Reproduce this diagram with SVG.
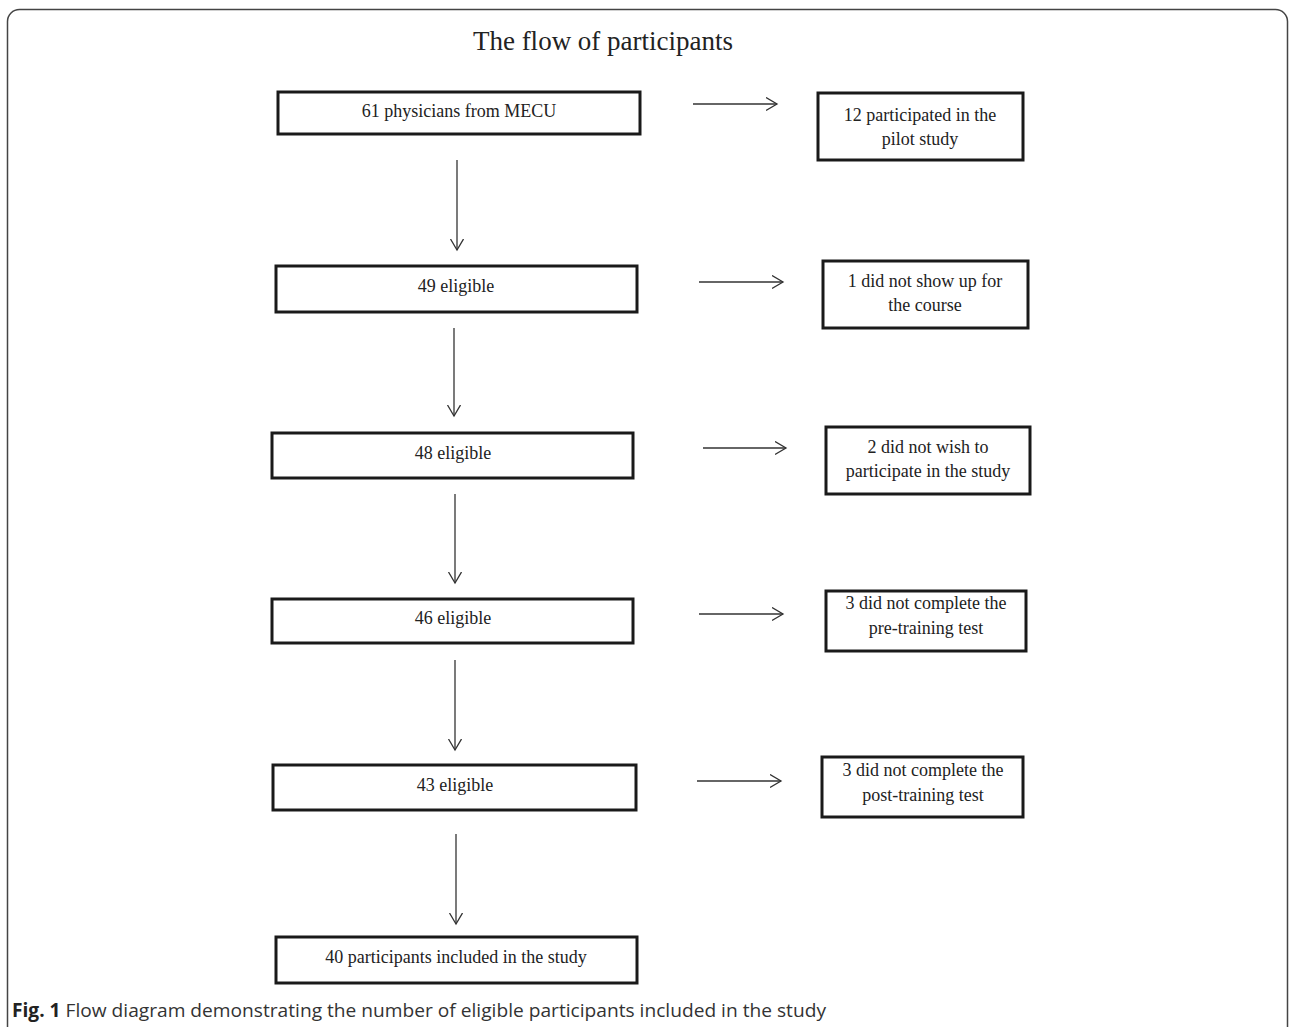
<svg xmlns="http://www.w3.org/2000/svg" width="1290" height="1027" viewBox="0 0 1290 1027">
<defs>
<style>
.box{fill:#fff;stroke:#1a1a1a;stroke-width:3}
.t{font-family:"Liberation Serif","Times New Roman",serif;font-size:18px;fill:#222;text-anchor:middle}
.ln{stroke:#333;stroke-width:1.3;fill:none;marker-end:url(#ah)}
</style>
<marker id="ah" markerUnits="userSpaceOnUse" markerWidth="14" markerHeight="16" refX="11" refY="7" orient="auto">
<path d="M0,0.5 L11,7 L0,13.5" fill="none" stroke="#333" stroke-width="1.3"/>
</marker>
</defs>
<rect width="1290" height="1027" fill="#fff"/>
<rect x="7.5" y="9.5" width="1280" height="1030" rx="12" fill="none" stroke="#444" stroke-width="1.5"/>
<text x="603" y="50" font-family="Liberation Serif, Times New Roman, serif" font-size="27" fill="#222" text-anchor="middle">The flow of participants</text>

<g id="connectors">
<line class="ln" x1="693" y1="104" x2="777" y2="104"/>
<line class="ln" x1="457" y1="160" x2="457" y2="250"/>
<line class="ln" x1="699" y1="282" x2="783" y2="282"/>
<line class="ln" x1="454" y1="328" x2="454" y2="416"/>
<line class="ln" x1="703" y1="448" x2="786" y2="448"/>
<line class="ln" x1="455" y1="494" x2="455" y2="583"/>
<line class="ln" x1="699" y1="614" x2="783" y2="614"/>
<line class="ln" x1="455" y1="660" x2="455" y2="750"/>
<line class="ln" x1="697" y1="781" x2="781" y2="781"/>
<line class="ln" x1="456" y1="834" x2="456" y2="924"/>
</g>

<g id="n1"><rect class="box" x="278" y="92" width="362" height="42"/><text class="t" x="459" y="117">61 physicians from MECU</text></g>
<g id="r1"><rect class="box" x="818" y="93" width="205" height="67"/><text class="t" x="920" y="121">12 participated in the</text><text class="t" x="920" y="145">pilot study</text></g>
<g id="n2"><rect class="box" x="276" y="266" width="361" height="46"/><text class="t" x="456" y="292">49 eligible</text></g>
<g id="r2"><rect class="box" x="823" y="261" width="205" height="67"/><text class="t" x="925" y="287">1 did not show up for</text><text class="t" x="925" y="311">the course</text></g>
<g id="n3"><rect class="box" x="272" y="433" width="361" height="45"/><text class="t" x="453" y="459">48 eligible</text></g>
<g id="r3"><rect class="box" x="826" y="427" width="204" height="67"/><text class="t" x="928" y="453">2 did not wish to</text><text class="t" x="928" y="477">participate in the study</text></g>
<g id="n4"><rect class="box" x="272" y="599" width="361" height="44"/><text class="t" x="453" y="624">46 eligible</text></g>
<g id="r4"><rect class="box" x="826" y="591" width="200" height="60"/><text class="t" x="926" y="609">3 did not complete the</text><text class="t" x="926" y="634">pre-training test</text></g>
<g id="n5"><rect class="box" x="273" y="765" width="363" height="45"/><text class="t" x="455" y="791">43 eligible</text></g>
<g id="r5"><rect class="box" x="822" y="757" width="201" height="60"/><text class="t" x="923" y="776">3 did not complete the</text><text class="t" x="923" y="801">post-training test</text></g>
<g id="n6"><rect class="box" x="276" y="937" width="361" height="46"/><text class="t" x="456" y="963">40 participants included in the study</text></g>

<text x="12" y="1017" font-family="Open Sans, Liberation Sans, sans-serif" font-size="19" fill="#333" textLength="814" lengthAdjust="spacingAndGlyphs"><tspan font-weight="bold" fill="#222">Fig. 1</tspan> Flow diagram demonstrating the number of eligible participants included in the study</text>
</svg>
